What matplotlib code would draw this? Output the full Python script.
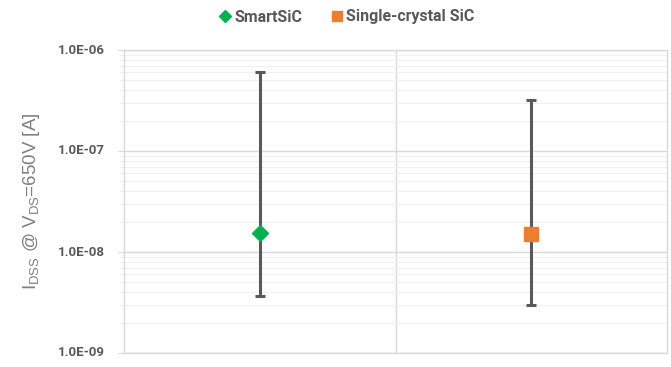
import matplotlib
matplotlib.use("Agg")
import matplotlib.pyplot as plt
from matplotlib.ticker import FixedLocator, LogLocator, NullFormatter, FuncFormatter

plt.rcParams['font.family'] = ['Roboto', 'DejaVu Sans']

categories = ["SmartSiC", "Single-crystal SiC"]
typical = [1.55e-8, 1.52e-8]
maximum = [6.1e-7, 3.2e-7]
minimum = [3.7e-9, 3.0e-9]
decades = [1e-9, 1e-8, 1e-7, 1e-6]
colors = ["#00B050", "#ED7D31"]
markers = ["D", "s"]
marker_sizes = [8.5, 10.5]

W, H = 671, 367
fig = plt.figure(figsize=(W / 100, H / 100), dpi=100)
left, right, top, bottom = 124, 667, 50, 353
ax = fig.add_axes([left / W, 1 - bottom / H, (right - left) / W, (bottom - top) / H])

ax.set_yscale("log")
ax.set_ylim(decades[0], decades[-1])
ax.set_xlim(0.5, 2.5)

# gridlines: faint minor, light major, category separators
ax.yaxis.set_major_locator(FixedLocator(decades))
ax.yaxis.set_minor_locator(LogLocator(base=10, subs=range(2, 10), numticks=20))
ax.yaxis.set_minor_formatter(NullFormatter())
ax.yaxis.set_major_formatter(FuncFormatter(lambda v, p: f"{v:.1E}"))
ax.grid(which="major", axis="y", color="#d9d9d9", lw=1.0)
ax.grid(which="minor", axis="y", color="#f0f0f0", lw=0.8)
ax.xaxis.set_major_locator(FixedLocator([1.5]))
ax.grid(which="major", axis="x", color="#d9d9d9", lw=1.0)
ax.set_axisbelow(True)
ax.tick_params(axis="x", which="both", length=0, labelbottom=False)
ax.tick_params(axis="y", which="major", length=4, color="#d9d9d9", labelsize=9.5,
               labelcolor="#595959", pad=10)
ax.tick_params(axis="y", which="minor", length=3, color="#e8e8e8")
for lbl in ax.get_yticklabels():
    lbl.set_fontweight("bold")
    lbl.set_verticalalignment("center")
for s in ax.spines.values():
    s.set_color("#d9d9d9")
    s.set_linewidth(1.0)

xs = [1, 2]
for i, cat in enumerate(categories):
    lo = typical[i] - minimum[i]
    hi = maximum[i] - typical[i]
    ax.errorbar([xs[i]], [typical[i]], yerr=[[lo], [hi]], fmt="none",
                ecolor="#595959", elinewidth=2.2, capsize=3.5, capthick=2.2, zorder=3)
    ax.plot([xs[i]], [typical[i]], marker=markers[i], color=colors[i],
            markersize=marker_sizes[i], linestyle="none", label=cat, zorder=4)

ax.set_ylabel(r"I$_{\mathregular{DSS}}$ @ V$_{\mathregular{DS}}$=650V [A]",
              fontsize=13.5, color="#7f7f7f", family=["Liberation Sans", "DejaVu Sans"])
ax.yaxis.set_label_coords((42 - left) / (right - left), 0.5)

leg = fig.legend(loc="center", bbox_to_anchor=(347 / W, 1 - 17 / H), ncol=2, frameon=False,
                 fontsize=11.5, handlelength=0.7, handletextpad=0.25, columnspacing=1.8,
                 markerscale=0.7)
for t in leg.get_texts():
    t.set_color("#595959")
    t.set_fontweight("bold")

fig.savefig("out.png", dpi=100)
